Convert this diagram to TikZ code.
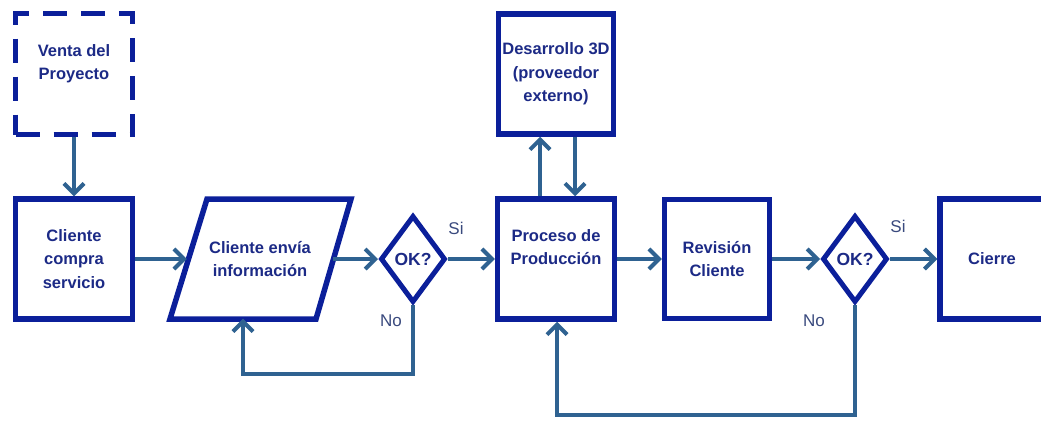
\documentclass[tikz,border=0pt]{standalone}
\usepackage{fontspec}
\setmainfont{Liberation Sans}
\usetikzlibrary{shapes.geometric,arrows.meta}
\definecolor{boxblue}{HTML}{0B1F9A}
\definecolor{arrowblue}{HTML}{2F6291}
\definecolor{txtblue}{HTML}{1C2A86}
\definecolor{lblgray}{HTML}{3A4A7E}
\begin{document}
\begin{tikzpicture}[x=1pt,y=-1pt,
  boxtext/.style={align=center, text=txtblue, font=\fontsize{16.5}{23.5}\selectfont\bfseries},
  proc/.style={boxtext, draw=boxblue, line width=5.5pt, fill=white, inner sep=0pt},
  dashedproc/.style={proc, dash pattern=on 24pt off 14pt},
  decision/.style={boxtext, diamond, draw=boxblue, line width=5pt, fill=white, inner sep=0pt, minimum width=65pt, minimum height=87pt, font=\fontsize{17.5}{20}\selectfont\bfseries},
  flow/.style={draw=arrowblue, line width=4.5pt, -{Straight Barb[length=10pt,width=20pt,line width=4pt]}},
  lbl/.style={text=lblgray, font=\fontsize{17}{19}\selectfont}
]
\useasboundingbox (0,0) rectangle (1041,421);
\clip (0,0) rectangle (1041,421);
\fill[white] (0,0) rectangle (1041,421);

% nodes
\node[dashedproc, minimum width=117pt, minimum height=121pt] (venta) at (74,74) {Venta del\\Proyecto\\ \mbox{}};
\node[proc, minimum width=117pt, minimum height=120pt] (compra) at (74,259) {Cliente\\compra\\servicio};
\draw[boxblue, line width=5.5pt, fill=white, line join=miter] (207,199) -- (351,199) -- (316,319) -- (170,319) -- cycle;
\node[boxtext, minimum width=146pt, minimum height=119pt, inner sep=0pt] (para) at (260,259) {Cliente envía\\información};
\node[decision] (d1) at (413,259) {OK?};
\node[proc, minimum width=117pt, minimum height=120pt] (proceso) at (556,259) {Proceso de\\Producción\\ \mbox{}};
\node[proc, minimum width=115pt, minimum height=120pt] (desarrollo) at (556,74) {Desarrollo 3D\\(proveedor\\externo)};
\node[proc, minimum width=105pt, minimum height=119pt] (revision) at (717,259) {Revisión\\Cliente};
\node[decision] (d2) at (855,259) {OK?};
\node[proc, minimum width=104pt, minimum height=120pt] (cierre) at (992,259) {Cierre};

% labels
\node[lbl] (si1) at (456,228) {Si};
\node[lbl] (no1) at (391,321) {No};
\node[lbl] (si2) at (898,226) {Si};
\node[lbl] (no2) at (814,321) {No};

% feedback corner points
\coordinate (fb1) at (243,374);
\coordinate (fb2) at (557,415);

% connectors
\draw[flow] (venta) -- (compra);
\draw[flow] (compra.east) -- (para.west);
\draw[flow] (para.east) -- (d1.west);
\draw[flow] (d1.east) -- (proceso.west);
\draw[flow] ([xshift=-16pt]proceso.north) -- ([xshift=-16pt]desarrollo.south);
\draw[flow] ([xshift=19pt]desarrollo.south) -- ([xshift=19pt]proceso.north);
\draw[flow] (proceso.east) -- (revision.west);
\draw[flow] (revision.east) -- (d2.west);
\draw[flow] (d2.east) -- (cierre.west);
\draw[flow] (d1.south) |- (fb1) -- (fb1 |- para.south);
\draw[flow] (d2.south) |- (fb2) -- (fb2 |- proceso.south);
\end{tikzpicture}
\end{document}
